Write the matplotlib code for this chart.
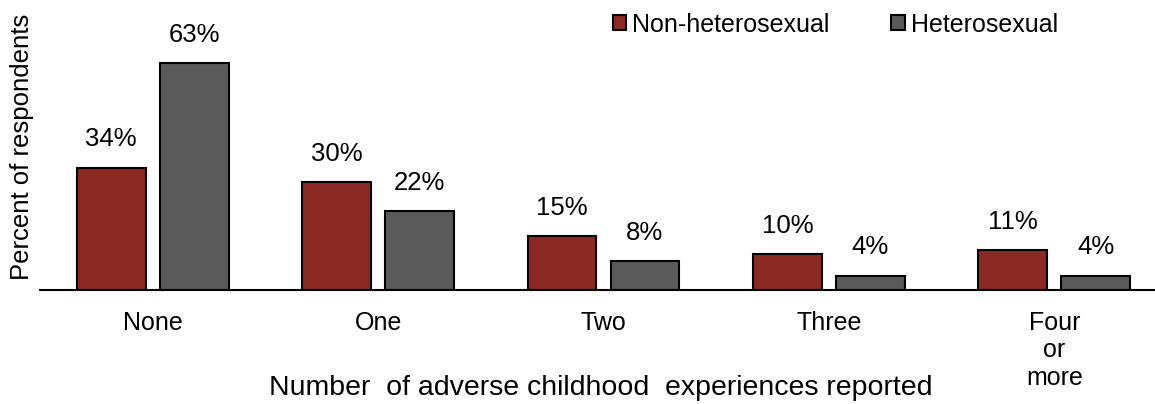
import matplotlib
matplotlib.use('Agg')
import matplotlib.pyplot as plt
import numpy as np

categories = ['None', 'One', 'Two', 'Three', 'Four\nor\nmore']
non_hetero = [34, 30, 15, 10, 11]
hetero = [63, 22, 8, 4, 4]
series_names = ['Non-heterosexual', 'Heterosexual']

plt.rcParams['font.family'] = ['Liberation Sans', 'DejaVu Sans']

fig = plt.figure(figsize=(11.55, 4.04), dpi=100)
# category pitch in the reference is ~225.5 px, so the axes runs a little past the right edge
ax = fig.add_axes([40 / 1155, 114 / 404, 1127 / 1155, 280 / 404])

x = np.arange(len(categories))
w = 0.305
gap = 0.063
red = '#8B2A22'
gray = '#5A5A5A'

b1 = ax.bar(x - (w + gap) / 2, non_hetero, w, color=red, edgecolor='black', linewidth=1.5, label=series_names[0])
b2 = ax.bar(x + (w + gap) / 2, hetero, w, color=gray, edgecolor='black', linewidth=1.5, label=series_names[1])

for bars, vals in ((b1, non_hetero), (b2, hetero)):
    for rect, v in zip(bars, vals):
        ax.text(rect.get_x() + rect.get_width() / 2, v + 4.5, f'{v}%',
                ha='center', va='bottom', fontsize=18.5)

ax.set_xlim(-0.5, len(categories) - 0.5)
ax.set_ylim(0, 280 / 3.6)
ax.set_xticks(x)
ax.set_xticklabels(categories, fontsize=18, linespacing=1.18, va='top')
ax.tick_params(axis='x', length=0, pad=15)
ax.set_yticks([])
for s in ('top', 'right', 'left'):
    ax.spines[s].set_visible(False)
ax.spines['bottom'].set_linewidth(1.5)
ax.spines['bottom'].set_clip_on(False)

fig.text(601 / 1155, 1 - 388 / 404, 'Number  of adverse childhood  experiences reported',
         ha='center', va='center', fontsize=20.5)
fig.text(22 / 1155, 1 - 147 / 404, 'Percent of respondents', rotation=90,
         ha='center', va='center', fontsize=18.5)

fig.legend(loc='upper left', bbox_to_anchor=(600 / 1155, 1.0), ncol=2, frameon=False,
           fontsize=18, handlelength=0.55, handleheight=0.55, handletextpad=0.25,
           columnspacing=2.45, borderaxespad=0.1)

fig.savefig('out.png', dpi=100)
